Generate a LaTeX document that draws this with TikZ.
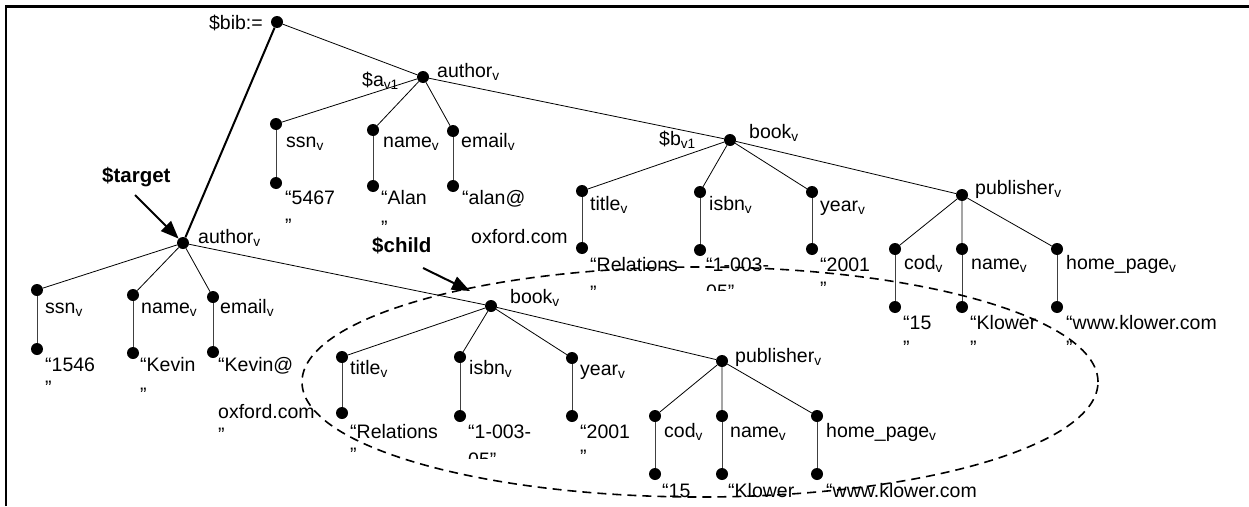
\documentclass[tikz,border=0pt]{standalone}
\usepackage{fontspec}
\setmainfont{Liberation Sans}
\usetikzlibrary{arrows.meta}
\newcommand{\subv}{\textsubscript{v}}
\newcommand{\valbox}[1]{\begin{tabular}[t]{@{}l@{}}#1\end{tabular}}

\begin{document}
\begin{tikzpicture}[
			x=1pt, y=-1pt,
			dot/.style={circle, fill=black, inner sep=0pt, minimum size=12pt},
			edge/.style={draw=black, line width=0.8pt},
			stem/.style={draw=black!75, line width=1pt},
			tag/.style={anchor=base west, inner sep=0pt, font=\fontsize{19.5}{23}\selectfont},
			val/.style={tag},
			var/.style={anchor=base west, inner sep=0pt, font=\fontsize{20.5}{24}\selectfont\bfseries},
			pointer/.style={-{Triangle[length=18pt,width=14pt]}, line width=2pt}
		]
		\useasboundingbox (0,0) rectangle (1249,506);
		\draw[line width=2.4pt] (6,506) -- (6,6.5) -- (1249,6.5);
		
		% Upper tree
		\node[dot] (bib) at (277,22) {};
		\node[dot] (auth1) at (423,77) {};
		\node[dot] (ssn1) at (276,124) {};
		\node[dot] (ssn1v) at (276,183) {};
		\node[dot] (name1) at (373,130) {};
		\node[dot] (name1v) at (373,186) {};
		\node[dot] (mail1) at (453,131) {};
		\node[dot] (mail1v) at (453,186) {};
		\node[dot] (book1) at (730,140) {};
		\node[dot] (title1) at (582,191) {};
		\node[dot] (title1v) at (582,248) {};
		\node[dot] (isbn1) at (700,192) {};
		\node[dot] (isbn1v) at (700,250) {};
		\node[dot] (year1) at (812,192) {};
		\node[dot] (year1v) at (812,249) {};
		\node[dot] (pub1) at (962,195) {};
		\node[dot] (cod1) at (895,249) {};
		\node[dot] (cod1v) at (895,307) {};
		\node[dot] (pname1) at (962,249) {};
		\node[dot] (pname1v) at (962,307) {};
		\node[dot] (home1) at (1057,249) {};
		\node[dot] (home1v) at (1057,307) {};
		
		% Lower tree
		\node[dot] (auth2) at (183,243) {};
		\node[dot] (ssn2) at (37,290) {};
		\node[dot] (ssn2v) at (37,349) {};
		\node[dot] (name2) at (133,295) {};
		\node[dot] (name2v) at (133,353) {};
		\node[dot] (mail2) at (213,297) {};
		\node[dot] (mail2v) at (213,352) {};
		\node[dot] (book2) at (491,306) {};
		\node[dot] (title2) at (342,357) {};
		\node[dot] (title2v) at (342,413) {};
		\node[dot] (isbn2) at (460,357) {};
		\node[dot] (isbn2v) at (460,416) {};
		\node[dot] (year2) at (572,358) {};
		\node[dot] (year2v) at (572,416) {};
		\node[dot] (pub2) at (722,361) {};
		\node[dot] (cod2) at (655,416) {};
		\node[dot] (cod2v) at (655,474) {};
		\node[dot] (pname2) at (722,416) {};
		\node[dot] (pname2v) at (722,474) {};
		\node[dot] (home2) at (817,416) {};
		\node[dot] (home2v) at (817,474) {};
		
		\draw[edge] (bib) -- (auth1);
		\draw[edge, line width=2pt] (bib) -- (auth2);
		\draw[edge] (auth1) -- (ssn1) (auth1) -- (name1) (auth1) -- (mail1) (auth1) -- (book1);
		\draw[edge] (book1) -- (title1) (book1) -- (isbn1) (book1) -- (year1) (book1) -- (pub1);
		\draw[edge] (pub1) -- (cod1) (pub1) -- (pname1) (pub1) -- (home1);
		\draw[edge] (auth2) -- (ssn2) (auth2) -- (name2) (auth2) -- (mail2) (auth2) -- (book2);
		\draw[edge] (book2) -- (title2) (book2) -- (isbn2) (book2) -- (year2) (book2) -- (pub2);
		\draw[edge] (pub2) -- (cod2) (pub2) -- (pname2) (pub2) -- (home2);
		
		\draw[stem] (ssn1) -- (ssn1v) (name1) -- (name1v) (mail1) -- (mail1v);
		\draw[stem] (title1) -- (title1v) (isbn1) -- (isbn1v) (year1) -- (year1v);
		\draw[stem] (cod1) -- (cod1v) (pname1) -- (pname1v) (home1) -- (home1v);
		\draw[stem] (ssn2) -- (ssn2v) (name2) -- (name2v) (mail2) -- (mail2v);
		\draw[stem] (title2) -- (title2v) (isbn2) -- (isbn2v) (year2) -- (year2v);
		\draw[stem] (cod2) -- (cod2v) (pname2) -- (pname2v) (home2) -- (home2v);
		
		% Upper labels
		\node[tag, anchor=base east] (biblbl) at (263,29) {\$bib:=};
		\node[tag] (a1lbl) at (362,86) {\$a\textsubscript{v1}};
		\node[tag] (auth1lbl) at (437,77) {author\subv};
		\node[tag] (ssn1lbl) at (286,147) {ssn\subv};
		\node[tag] (name1lbl) at (383,147) {name\subv};
		\node[tag] (mail1lbl) at (461,147) {email\subv};
		\node[tag] (b1lbl) at (659,145) {\$b\textsubscript{v1}};
		\node[tag] (book1lbl) at (749,138) {book\subv};
		\node[tag] (title1lbl) at (590,210) {title\subv};
		\node[tag] (isbn1lbl) at (709,210) {isbn\subv};
		\node[tag] (year1lbl) at (820,211) {year\subv};
		\node[tag] (pub1lbl) at (975,194) {publisher\subv};
		\node[tag] (cod1lbl) at (904,269) {cod\subv};
		\node[tag] (pname1lbl) at (971,269) {name\subv};
		\node[tag] (home1lbl) at (1066,269) {home\_page\subv};
		
		\node[val] (ssn1txt) at (285,204) {\valbox{“5467\\[5pt]”}};
		\node[val] (name1txt) at (381,204) {\valbox{“Alan\\[7pt]”}};
		\node[val] (mail1txt) at (462,204) {\valbox{“alan@\\[16pt]\hspace*{9pt}oxford.com}};
		\node[val] (title1txt) at (590,271) {\valbox{“Relations\\[5pt]”}};
		\begin{scope}
			\clip (695,250) rectangle (790,290);
			\node[val] (isbn1txt) at (706,271) {\valbox{“1-003-\\[4pt]05”}};
		\end{scope}
		\node[val] (year1txt) at (820,271) {\valbox{“2001\\[1pt]”}};
		\node[val] (cod1txt) at (903,329) {\valbox{“15\\[2pt]”}};
		\node[val] (pname1txt) at (970,329) {\valbox{“Klower\\[2pt]”}};
		\node[val] (home1txt) at (1066,329) {\valbox{“www.klower.com\\[2pt]”}};
		
		% Lower labels
		\node[tag] (auth2lbl) at (198,243) {author\subv};
		\node[tag] (ssn2lbl) at (45,313) {ssn\subv};
		\node[tag] (name2lbl) at (141,313) {name\subv};
		\node[tag] (mail2lbl) at (220,313) {email\subv};
		\node[tag] (book2lbl) at (510,303) {book\subv};
		\node[tag] (title2lbl) at (350,374) {title\subv};
		\node[tag] (isbn2lbl) at (469,374) {isbn\subv};
		\node[tag] (year2lbl) at (580,375) {year\subv};
		\node[tag] (pub2lbl) at (735,362) {publisher\subv};
		\node[tag] (cod2lbl) at (664,437) {cod\subv};
		\node[tag] (pname2lbl) at (730,437) {name\subv};
		\node[tag] (home2lbl) at (826,437) {home\_page\subv};
		
		\node[val] (ssn2txt) at (45,371) {\valbox{“1546\\”}};
		\node[val] (name2txt) at (140,371) {\valbox{“Kevin\\[7pt]”}};
		\node[val] (mail2txt) at (218,371) {\valbox{“Kevin@\\[24pt]oxford.com\\”}};
		\node[val] (title2txt) at (350,438) {\valbox{“Relations\\”}};
		\begin{scope}
			\clip (462,418) rectangle (560,458);
			\node[val] (isbn2txt) at (468,438) {\valbox{“1-003-\\[5pt]05”}};
		\end{scope}
		\node[val] (year2txt) at (580,438) {\valbox{“2001\\[2pt]”}};
		\node[val] (cod2txt) at (662,497) {“15};
		\node[val] (pname2txt) at (728,497) {“Klower};
		\node[val] (home2txt) at (826,497) {“www.klower.com};
		
		% Variables and the subtree
		\node[var] (target) at (102,182) {\$target};
		\node[var] (child) at (372,252) {\$child};
		\coordinate (targettail) at (135,195);
		\coordinate (childtail) at (423,268);
		\coordinate (childtip) at (470,291);
		\draw[pointer] (targettail) -- (auth2);
		\draw[pointer] (childtail) -- (childtip);
		\draw[line width=1.6pt, dash pattern=on 9pt off 6pt] (700,382) ellipse [x radius=398pt, y radius=115pt];
		\end{tikzpicture}
\end{document}
